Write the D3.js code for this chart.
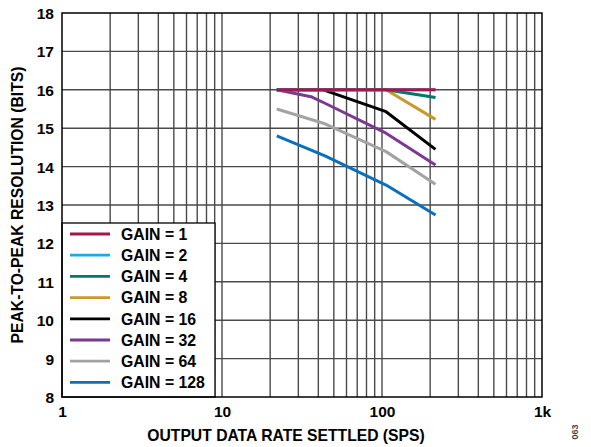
<!DOCTYPE html>
<html><head><meta charset="utf-8">
<script src="https://cdn.jsdelivr.net/npm/d3@7"></script>
<style>body{margin:0;background:#fff}svg{display:block}text{font-family:"Liberation Sans",Arial,sans-serif;font-weight:bold}</style>
</head><body><div id="c"></div>
<script>
const gainLabels = ["GAIN = 1","GAIN = 2","GAIN = 4","GAIN = 8","GAIN = 16","GAIN = 32","GAIN = 64","GAIN = 128"];
const gainColors = ["#a3174b","#1ea9e1","#00786c","#c8992c","#000000","#7b3a90","#a3a3a3","#0b70bb"];
const gain1 = [[22,16],[216,16]];
const gain2 = [[22,16],[216,16]];
const gain4 = [[22,16],[106,16],[216,15.8]];
const gain8 = [[22,16],[106,16],[216,15.23]];
const gain16 = [[22,16],[43,16],[106,15.43],[216,14.45]];
const gain32 = [[22,16],[36,15.82],[44,15.65],[106,14.87],[216,14.04]];
const gain64 = [[22,15.5],[43,15.13],[106,14.39],[216,13.54]];
const gain128 = [[22,14.8],[39,14.37],[44,14.28],[106,13.52],[216,12.74]];
const series = [gain1,gain2,gain4,gain8,gain16,gain32,gain64,gain128];
const xTickValues = [1,10,100,1000];
const xTickLabels = ["1","10","100","1k"];
const yTickValues = [8,9,10,11,12,13,14,15,16,17,18];

const W=591,H=447;
const L=62,R=542,T=13,B=397;
const svg=d3.select("#c").append("svg").attr("width",W).attr("height",H);
const x=d3.scaleLog().domain([1,1000]).range([L,R]);
const y=d3.scaleLinear().domain([8,18]).range([B,T]);

// grid
const minor=[];
for(let d=1;d<1000;d*=10){for(let k=1;k<10;k++){minor.push(d*k);}}
svg.append("g").selectAll("line").data(minor.filter(v=>v>1)).join("line")
 .attr("x1",d=>x(d)).attr("x2",d=>x(d)).attr("y1",T).attr("y2",B)
 .attr("stroke","#4a4a4a").attr("stroke-width",1.4);
svg.append("g").selectAll("line").data(yTickValues.slice(1,-1)).join("line")
 .attr("x1",L).attr("x2",R).attr("y1",d=>y(d)).attr("y2",d=>y(d))
 .attr("stroke","#4a4a4a").attr("stroke-width",1.4);

// lines
const line=d3.line().x(d=>x(d[0])).y(d=>y(d[1]));
for(let i=series.length-1;i>=0;i--){
 svg.append("path").datum(series[i]).attr("d",line).attr("fill","none")
  .attr("stroke",gainColors[i]).attr("stroke-width",3).attr("stroke-linejoin","round");
}

// legend
const lg=svg.append("g");
lg.append("rect").attr("x",L).attr("y",223).attr("width",153).attr("height",B-223).attr("fill","#fff").attr("stroke","#000").attr("stroke-width",1.3);
gainLabels.forEach((t,i)=>{
 const yy=234+i*21.2;
 lg.append("line").attr("x1",70).attr("x2",110).attr("y1",yy).attr("y2",yy).attr("stroke",gainColors[i]).attr("stroke-width",2.8);
 lg.append("text").attr("x",121).attr("y",yy+5.8).attr("font-size",15.8).attr("fill","#000").text(t);
});

// frame
svg.append("rect").attr("x",L).attr("y",T).attr("width",R-L).attr("height",B-T).attr("fill","none").attr("stroke","#000").attr("stroke-width",1.5);

// axes labels
const xa=d3.axisBottom(x).tickValues(xTickValues).tickFormat((d,i)=>xTickLabels[i]).tickSize(0).tickPadding(0);
const gx=svg.append("g").attr("transform",`translate(0,${B})`).call(xa);
gx.select(".domain").remove();
gx.selectAll("text").attr("font-size",15.5).attr("fill","#000").attr("dy",null).attr("y",20).attr("font-family",null);
const ya=d3.axisLeft(y).tickValues(yTickValues).tickFormat(d3.format("d")).tickSize(0).tickPadding(0);
const gy=svg.append("g").attr("transform",`translate(${L-8},0)`).call(ya);
gy.select(".domain").remove();
gy.selectAll("text").attr("font-size",15.5).attr("fill","#000").attr("dy","0.36em").attr("font-family",null);

svg.append("text").attr("x",286).attr("y",441).attr("text-anchor","middle").attr("font-size",15.7).attr("fill","#000").text("OUTPUT DATA RATE SETTLED (SPS)");
svg.append("text").attr("transform",`translate(23,${(T+B)/2}) rotate(-90)`).attr("text-anchor","middle").attr("font-size",15.7).attr("fill","#000").text("PEAK-TO-PEAK RESOLUTION (BITS)");
svg.append("text").attr("transform",`translate(578,432) rotate(-90)`).attr("text-anchor","middle").attr("font-size",9).attr("font-weight","normal").attr("fill","#444").text("063");
</script></body></html>
